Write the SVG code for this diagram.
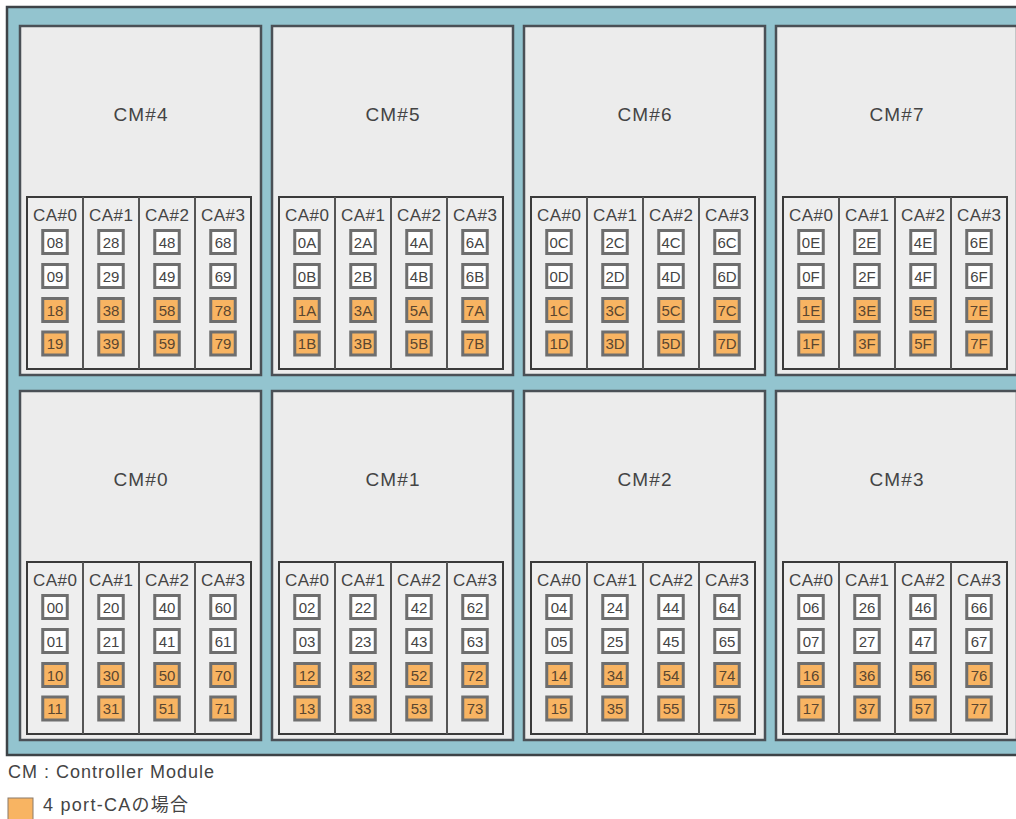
<svg xmlns="http://www.w3.org/2000/svg" width="1016" height="819" viewBox="0 0 1016 819">
<style>
.frame{fill:#93c4cf;stroke:#3d4347;stroke-width:2.5}
.cm{fill:#ececec;stroke:#4a5056;stroke-width:2.5}
.pnl{fill:#eeeeee;stroke:#3a3a3a;stroke-width:2}
.dv{stroke:#555;stroke-width:2}
.cml{font-family:"Liberation Sans",Arial,sans-serif;font-size:19px;fill:#444;text-anchor:middle}
.cal{font-family:"Liberation Sans",Arial,sans-serif;font-size:17px;fill:#444;text-anchor:middle}
.pw{fill:#ffffff;stroke:#6e6e6e;stroke-width:3}
.po{fill:#f8b462;stroke:#6e6e6e;stroke-width:3}
.pt{font-family:"Liberation Sans",Arial,sans-serif;font-size:15px;fill:#444;text-anchor:middle}
.pto{font-family:"Liberation Sans",Arial,sans-serif;font-size:15px;fill:#5a4630;text-anchor:middle}
.leg{font-family:"Liberation Sans","Noto Sans CJK JP",sans-serif;font-size:18px;fill:#444}
</style>
<defs>
<g id="base">
<rect class="cm" x="0" y="0" width="241" height="349"/>
<rect class="pnl" x="7" y="171" width="224" height="172"/>
<line class="dv" x1="63" y1="171" x2="63" y2="343"/>
<line class="dv" x1="119" y1="171" x2="119" y2="343"/>
<line class="dv" x1="175" y1="171" x2="175" y2="343"/>
<text class="cal" x="35" y="195" textLength="44" lengthAdjust="spacing">CA#0</text>
<text class="cal" x="91" y="195" textLength="44" lengthAdjust="spacing">CA#1</text>
<text class="cal" x="147" y="195" textLength="44" lengthAdjust="spacing">CA#2</text>
<text class="cal" x="203" y="195" textLength="44" lengthAdjust="spacing">CA#3</text>
</g>
<g id="boxes">
<rect class="pw" x="-12.25" y="204.5" width="24.5" height="23"/>
<rect class="pw" x="-12.25" y="238.5" width="24.5" height="23"/>
<rect class="po" x="-12.25" y="272.5" width="24.5" height="23"/>
<rect class="po" x="-12.25" y="306" width="24.5" height="23"/>
</g>
</defs>
<rect class="frame" x="7" y="7" width="1030" height="748"/>

<g id="cm4" transform="translate(20,26)">
<use href="#base"/>
<text class="cml" x="120.5" y="94.5" textLength="54" lengthAdjust="spacing">CM#4</text>
<g transform="translate(35,0)"><use href="#boxes"/><text class="pt" y="221.5">08</text><text class="pt" y="255.5">09</text><text class="pto" y="289.5">18</text><text class="pto" y="323">19</text></g>
<g transform="translate(91,0)"><use href="#boxes"/><text class="pt" y="221.5">28</text><text class="pt" y="255.5">29</text><text class="pto" y="289.5">38</text><text class="pto" y="323">39</text></g>
<g transform="translate(147,0)"><use href="#boxes"/><text class="pt" y="221.5">48</text><text class="pt" y="255.5">49</text><text class="pto" y="289.5">58</text><text class="pto" y="323">59</text></g>
<g transform="translate(203,0)"><use href="#boxes"/><text class="pt" y="221.5">68</text><text class="pt" y="255.5">69</text><text class="pto" y="289.5">78</text><text class="pto" y="323">79</text></g>
</g>

<g id="cm5" transform="translate(272,26)">
<use href="#base"/>
<text class="cml" x="120.5" y="94.5" textLength="54" lengthAdjust="spacing">CM#5</text>
<g transform="translate(35,0)"><use href="#boxes"/><text class="pt" y="221.5">0A</text><text class="pt" y="255.5">0B</text><text class="pto" y="289.5">1A</text><text class="pto" y="323">1B</text></g>
<g transform="translate(91,0)"><use href="#boxes"/><text class="pt" y="221.5">2A</text><text class="pt" y="255.5">2B</text><text class="pto" y="289.5">3A</text><text class="pto" y="323">3B</text></g>
<g transform="translate(147,0)"><use href="#boxes"/><text class="pt" y="221.5">4A</text><text class="pt" y="255.5">4B</text><text class="pto" y="289.5">5A</text><text class="pto" y="323">5B</text></g>
<g transform="translate(203,0)"><use href="#boxes"/><text class="pt" y="221.5">6A</text><text class="pt" y="255.5">6B</text><text class="pto" y="289.5">7A</text><text class="pto" y="323">7B</text></g>
</g>

<g id="cm6" transform="translate(524,26)">
<use href="#base"/>
<text class="cml" x="120.5" y="94.5" textLength="54" lengthAdjust="spacing">CM#6</text>
<g transform="translate(35,0)"><use href="#boxes"/><text class="pt" y="221.5">0C</text><text class="pt" y="255.5">0D</text><text class="pto" y="289.5">1C</text><text class="pto" y="323">1D</text></g>
<g transform="translate(91,0)"><use href="#boxes"/><text class="pt" y="221.5">2C</text><text class="pt" y="255.5">2D</text><text class="pto" y="289.5">3C</text><text class="pto" y="323">3D</text></g>
<g transform="translate(147,0)"><use href="#boxes"/><text class="pt" y="221.5">4C</text><text class="pt" y="255.5">4D</text><text class="pto" y="289.5">5C</text><text class="pto" y="323">5D</text></g>
<g transform="translate(203,0)"><use href="#boxes"/><text class="pt" y="221.5">6C</text><text class="pt" y="255.5">6D</text><text class="pto" y="289.5">7C</text><text class="pto" y="323">7D</text></g>
</g>

<g id="cm7" transform="translate(776,26)">
<use href="#base"/>
<text class="cml" x="120.5" y="94.5" textLength="54" lengthAdjust="spacing">CM#7</text>
<g transform="translate(35,0)"><use href="#boxes"/><text class="pt" y="221.5">0E</text><text class="pt" y="255.5">0F</text><text class="pto" y="289.5">1E</text><text class="pto" y="323">1F</text></g>
<g transform="translate(91,0)"><use href="#boxes"/><text class="pt" y="221.5">2E</text><text class="pt" y="255.5">2F</text><text class="pto" y="289.5">3E</text><text class="pto" y="323">3F</text></g>
<g transform="translate(147,0)"><use href="#boxes"/><text class="pt" y="221.5">4E</text><text class="pt" y="255.5">4F</text><text class="pto" y="289.5">5E</text><text class="pto" y="323">5F</text></g>
<g transform="translate(203,0)"><use href="#boxes"/><text class="pt" y="221.5">6E</text><text class="pt" y="255.5">6F</text><text class="pto" y="289.5">7E</text><text class="pto" y="323">7F</text></g>
</g>

<g id="cm0" transform="translate(20,391)">
<use href="#base"/>
<text class="cml" x="120.5" y="94.5" textLength="54" lengthAdjust="spacing">CM#0</text>
<g transform="translate(35,0)"><use href="#boxes"/><text class="pt" y="221.5">00</text><text class="pt" y="255.5">01</text><text class="pto" y="289.5">10</text><text class="pto" y="323">11</text></g>
<g transform="translate(91,0)"><use href="#boxes"/><text class="pt" y="221.5">20</text><text class="pt" y="255.5">21</text><text class="pto" y="289.5">30</text><text class="pto" y="323">31</text></g>
<g transform="translate(147,0)"><use href="#boxes"/><text class="pt" y="221.5">40</text><text class="pt" y="255.5">41</text><text class="pto" y="289.5">50</text><text class="pto" y="323">51</text></g>
<g transform="translate(203,0)"><use href="#boxes"/><text class="pt" y="221.5">60</text><text class="pt" y="255.5">61</text><text class="pto" y="289.5">70</text><text class="pto" y="323">71</text></g>
</g>

<g id="cm1" transform="translate(272,391)">
<use href="#base"/>
<text class="cml" x="120.5" y="94.5" textLength="54" lengthAdjust="spacing">CM#1</text>
<g transform="translate(35,0)"><use href="#boxes"/><text class="pt" y="221.5">02</text><text class="pt" y="255.5">03</text><text class="pto" y="289.5">12</text><text class="pto" y="323">13</text></g>
<g transform="translate(91,0)"><use href="#boxes"/><text class="pt" y="221.5">22</text><text class="pt" y="255.5">23</text><text class="pto" y="289.5">32</text><text class="pto" y="323">33</text></g>
<g transform="translate(147,0)"><use href="#boxes"/><text class="pt" y="221.5">42</text><text class="pt" y="255.5">43</text><text class="pto" y="289.5">52</text><text class="pto" y="323">53</text></g>
<g transform="translate(203,0)"><use href="#boxes"/><text class="pt" y="221.5">62</text><text class="pt" y="255.5">63</text><text class="pto" y="289.5">72</text><text class="pto" y="323">73</text></g>
</g>

<g id="cm2" transform="translate(524,391)">
<use href="#base"/>
<text class="cml" x="120.5" y="94.5" textLength="54" lengthAdjust="spacing">CM#2</text>
<g transform="translate(35,0)"><use href="#boxes"/><text class="pt" y="221.5">04</text><text class="pt" y="255.5">05</text><text class="pto" y="289.5">14</text><text class="pto" y="323">15</text></g>
<g transform="translate(91,0)"><use href="#boxes"/><text class="pt" y="221.5">24</text><text class="pt" y="255.5">25</text><text class="pto" y="289.5">34</text><text class="pto" y="323">35</text></g>
<g transform="translate(147,0)"><use href="#boxes"/><text class="pt" y="221.5">44</text><text class="pt" y="255.5">45</text><text class="pto" y="289.5">54</text><text class="pto" y="323">55</text></g>
<g transform="translate(203,0)"><use href="#boxes"/><text class="pt" y="221.5">64</text><text class="pt" y="255.5">65</text><text class="pto" y="289.5">74</text><text class="pto" y="323">75</text></g>
</g>

<g id="cm3" transform="translate(776,391)">
<use href="#base"/>
<text class="cml" x="120.5" y="94.5" textLength="54" lengthAdjust="spacing">CM#3</text>
<g transform="translate(35,0)"><use href="#boxes"/><text class="pt" y="221.5">06</text><text class="pt" y="255.5">07</text><text class="pto" y="289.5">16</text><text class="pto" y="323">17</text></g>
<g transform="translate(91,0)"><use href="#boxes"/><text class="pt" y="221.5">26</text><text class="pt" y="255.5">27</text><text class="pto" y="289.5">36</text><text class="pto" y="323">37</text></g>
<g transform="translate(147,0)"><use href="#boxes"/><text class="pt" y="221.5">46</text><text class="pt" y="255.5">47</text><text class="pto" y="289.5">56</text><text class="pto" y="323">57</text></g>
<g transform="translate(203,0)"><use href="#boxes"/><text class="pt" y="221.5">66</text><text class="pt" y="255.5">67</text><text class="pto" y="289.5">76</text><text class="pto" y="323">77</text></g>
</g>

<g id="connectors"></g>

<g id="legend">
<text class="leg" x="8" y="778" textLength="206" lengthAdjust="spacing">CM : Controller Module</text>
<rect x="8" y="798" width="25" height="24" fill="#f8b462" stroke="#8a7a6a" stroke-width="1"/>
<text class="leg" x="43" y="811" textLength="145" lengthAdjust="spacing">4 port-CAの場合</text>
</g>
</svg>
